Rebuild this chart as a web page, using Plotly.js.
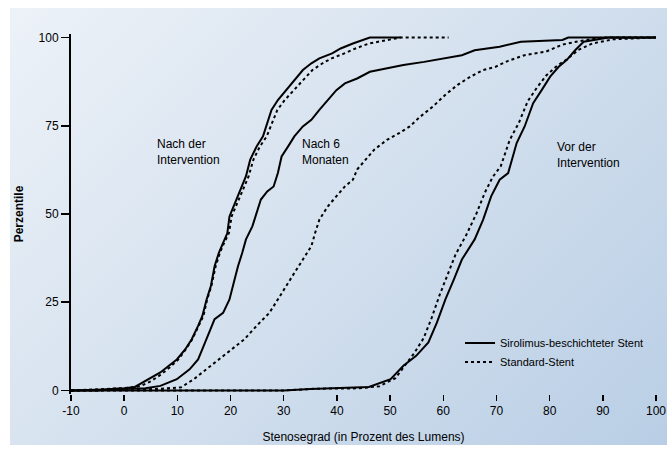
<!DOCTYPE html>
<html>
<head>
<meta charset="utf-8">
<script src="https://cdn.plot.ly/plotly-3.0.1.min.js"></script>
<style>
  html, body { margin: 0; padding: 0; background: #ffffff; }
  #wrap { position: relative; width: 667px; height: 458px; overflow: hidden; }
  #bg { position: absolute; left: 10px; top: 8px; width: 657px; height: 437px;
        background: linear-gradient(135deg, #edf2f8 0%, #d6e2ef 45%, #b9cee5 100%); }
  #chart { position: absolute; left: 0; top: 0; width: 667px; height: 458px; }
</style>
</head>
<body>
<div id="wrap"><div id="bg"></div><div id="chart"></div></div>
<script>
// Stenosegrad (%) vs. Perzentile – cumulative distributions
const postSolidX = [-10, -5, -2, 0, 2, 3.6, 5.2, 6.8, 8.4, 9.9, 11.5, 12.7, 13.9, 14.7, 15.5, 16.3, 17.0, 17.8, 18.6, 19.4, 19.8, 20.6, 21.4, 22.2, 22.9, 23.7, 24.9, 26.1, 26.9, 27.7, 28.9, 30.4, 32.0, 33.6, 35.2, 36.7, 39.1, 40.7, 43.0, 45.4, 46.2, 52];
const postSolidY = [0, 0, 0.5, 0.6, 1, 2.3, 3.6, 5.1, 7.0, 8.8, 11.7, 14.5, 18.3, 21.1, 25.8, 29.6, 35.2, 39.0, 41.8, 44.6, 49.3, 52.2, 55.0, 57.8, 60.7, 65.4, 69.1, 72.0, 75.7, 79.5, 82.3, 85.1, 88.0, 90.8, 92.7, 94.1, 95.5, 96.9, 98.3, 99.5, 100, 100];

const postDotX = [-10, -4, -1, 1, 3, 5, 7, 8.6, 10.2, 11.6, 12.8, 14.0, 14.9, 15.6, 16.4, 17.2, 18.0, 18.8, 19.7, 20.2, 21.0, 21.8, 22.6, 23.4, 24.3, 25.5, 26.8, 27.8, 28.8, 30.2, 31.9, 33.6, 35.4, 37.3, 39.0, 41.4, 43.5, 46.0, 48.5, 52, 61];
const postDotY = [0, 0.3, 0.6, 0.8, 1.2, 2.6, 4.6, 6.6, 8.8, 11.7, 14.5, 18.3, 21.1, 25.8, 29.6, 35.2, 39.0, 41.8, 44.6, 49.3, 52.2, 55.0, 57.8, 60.7, 65.4, 69.1, 72.0, 75.7, 79.5, 82.3, 85.1, 88.0, 90.8, 92.7, 94.1, 95.5, 96.9, 98.3, 99.0, 100, 100];

const sixSolidX = [-10, 0, 4, 6.8, 9.9, 12.3, 13.9, 14.7, 15.5, 16.3, 17.0, 18.6, 19.8, 20.6, 21.4, 22.2, 22.9, 24.1, 24.9, 25.7, 26.9, 28.1, 28.9, 29.6, 30.8, 32.0, 33.6, 35.2, 36.7, 38.3, 39.9, 41.5, 43.8, 46.2, 49.4, 52.5, 56.4, 60.4, 63.5, 65.9, 70.6, 74.6, 82.4, 83.5, 100];
const sixSolidY = [0, 0.3, 0.6, 1.3, 3.2, 6.0, 8.8, 11.7, 14.5, 17.3, 20.2, 22.0, 25.8, 30.5, 35.2, 39.0, 42.8, 46.5, 50.3, 54.1, 56.4, 57.8, 61.6, 66.3, 69.1, 72.0, 74.8, 76.7, 79.5, 82.3, 85.1, 87.0, 88.4, 90.3, 91.3, 92.2, 93.1, 94.1, 95.0, 96.4, 97.4, 98.8, 99.3, 100, 100];

const sixDotX = [-10, 2, 7, 10.7, 13.1, 15.5, 17.8, 20.2, 22.6, 24.9, 27.3, 28.9, 30.4, 32.0, 33.6, 35.2, 35.9, 36.7, 38.3, 39.9, 41.5, 43.0, 43.8, 45.4, 47.0, 49.4, 51.7, 53.7, 55.6, 58.0, 60.4, 62.7, 65.1, 67.5, 69.8, 72.2, 75.3, 79.3, 82.4, 85.6, 90, 100];
const sixDotY = [0, 0.2, 0.5, 0.9, 3.2, 6.0, 8.8, 11.7, 14.5, 18.3, 22.0, 25.8, 29.6, 33.3, 37.1, 40.9, 44.6, 48.4, 52.2, 55.0, 57.8, 59.7, 62.6, 65.4, 68.2, 71.0, 72.9, 74.8, 77.5, 80.4, 83.8, 86.6, 88.9, 90.8, 91.7, 93.4, 95.0, 96.0, 98.0, 99.0, 100, 100];

const preSolidX = [-10, 30, 35, 42, 46, 50.1, 52.5, 54.9, 57.2, 58.8, 60.4, 62.0, 63.5, 65.9, 67.5, 69.0, 70.6, 72.2, 73.8, 75.3, 76.9, 78.5, 80.1, 81.7, 83.2, 84.8, 86.4, 91.1, 100];
const preSolidY = [0, 0, 0.4, 0.8, 1.0, 3.2, 7.0, 9.8, 13.6, 19.2, 25.8, 31.5, 37.1, 42.8, 48.4, 55.0, 59.7, 61.6, 70.1, 74.8, 81.4, 85.1, 88.9, 91.7, 93.6, 96.4, 98.8, 100, 100];

const preDotX = [-10, 30, 36, 44, 48, 51.0, 53.0, 54.5, 56.3, 57.8, 59.3, 60.8, 62.3, 64.3, 66.2, 67.8, 69.3, 70.8, 72.5, 74.2, 75.9, 77.6, 79.4, 81.4, 83.4, 85.4, 88.0, 92, 100];
const preDotY = [0, 0, 0.5, 0.6, 1.2, 3.5, 7.5, 10.5, 14.8, 20.5, 27.0, 33.0, 38.5, 44.0, 50.0, 56.0, 60.5, 63.5, 71.0, 75.8, 82.0, 85.8, 89.3, 92.0, 94.0, 96.5, 98.3, 99.5, 100];

const xTicks = [-10, 0, 10, 20, 30, 40, 50, 60, 70, 80, 90, 100];
const yTicks = [0, 25, 50, 75, 100];
const legendNames = ["Sirolimus-beschichteter Stent", "Standard-Stent"];
const curveLabels = ["Nach der<br>Intervention", "Nach 6<br>Monaten", "Vor der<br>Intervention"];
const curveLabelX = [5.8, 33.0, 81.0];
const curveLabelY = [67.7, 67.7, 66.6];

const solid = {color: '#000000', width: 2, dash: 'solid'};
const dotted = {color: '#000000', width: 2, dash: 'dot'};

const traces = [
  {x: postSolidX, y: postSolidY, mode: 'lines', line: solid, name: legendNames[0], showlegend: true, legendgroup: 's'},
  {x: postDotX, y: postDotY, mode: 'lines', line: dotted, name: legendNames[1], showlegend: true, legendgroup: 'd'},
  {x: sixSolidX, y: sixSolidY, mode: 'lines', line: solid, name: legendNames[0], showlegend: false, legendgroup: 's'},
  {x: sixDotX, y: sixDotY, mode: 'lines', line: dotted, name: legendNames[1], showlegend: false, legendgroup: 'd'},
  {x: preSolidX, y: preSolidY, mode: 'lines', line: solid, name: legendNames[0], showlegend: false, legendgroup: 's'},
  {x: preDotX, y: preDotY, mode: 'lines', line: dotted, name: legendNames[1], showlegend: false, legendgroup: 'd'}
];

const annotations = curveLabels.map((t, i) => ({
  x: curveLabelX[i], y: curveLabelY[i], xref: 'x', yref: 'y', text: t,
  showarrow: false, xanchor: 'left', yanchor: 'middle', align: 'left',
  font: {family: 'Liberation Sans, Arial, sans-serif', size: 12, color: '#000'}
}));

const layout = {
  width: 667, height: 458,
  margin: {l: 71, r: 11, t: 34, b: 64},
  paper_bgcolor: 'rgba(0,0,0,0)',
  plot_bgcolor: 'rgba(0,0,0,0)',
  font: {family: 'Liberation Sans, Arial, sans-serif', size: 12, color: '#000'},
  showlegend: true,
  legend: {x: 0.665, y: 0.182, xanchor: 'left', yanchor: 'top', bgcolor: 'rgba(0,0,0,0)',
           font: {size: 11, color: '#000'}, tracegroupgap: 0, traceorder: 'normal'},
  xaxis: {
    range: [-10, 100], tickvals: xTicks, ticktext: xTicks.map(String),
    ticklabeloverflow: 'allow',
    showgrid: false, zeroline: false, showline: false,
    ticks: 'outside', ticklen: 6, tickcolor: '#000', tickwidth: 1.5,
    tickfont: {size: 12, color: '#000'},
    title: {text: 'Stenosegrad (in Prozent des Lumens)', font: {size: 12, color: '#000'}, standoff: 15}
  },
  yaxis: {
    range: [-1, 101], tickvals: yTicks, ticktext: yTicks.map(String),
    showgrid: false, zeroline: false, showline: true, linecolor: '#000', linewidth: 2,
    ticks: 'outside', ticklen: 8, tickcolor: '#000', tickwidth: 1.5,
    tickfont: {size: 12, color: '#000'},
    title: {text: '<b>Perzentile</b>', font: {size: 12, color: '#000'}, standoff: 12}
  },
  annotations: annotations
};

Plotly.newPlot('chart', traces, layout, {displayModeBar: false, staticPlot: true});
</script>
</body>
</html>
